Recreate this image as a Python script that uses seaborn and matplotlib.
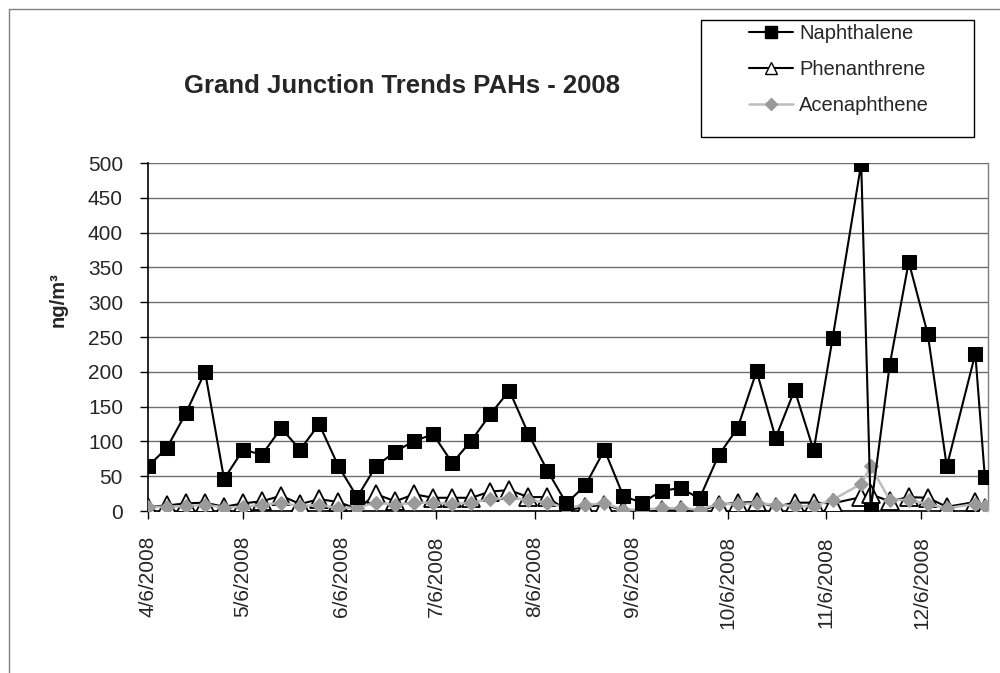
import pandas as pd
import matplotlib
matplotlib.use("Agg")
import matplotlib.pyplot as plt
from matplotlib.lines import Line2D
from matplotlib.patches import Rectangle
import seaborn as sns


# ------------------------------------------------------
# Data
# ------------------------------------------------------
sample_dates = [
    "2008-04-06", "2008-04-12", "2008-04-18", "2008-04-24", "2008-04-30",
    "2008-05-06", "2008-05-12", "2008-05-18", "2008-05-24", "2008-05-30",
    "2008-06-05", "2008-06-11", "2008-06-17", "2008-06-23", "2008-06-29",
    "2008-07-05", "2008-07-11", "2008-07-17", "2008-07-23", "2008-07-29",
    "2008-08-04", "2008-08-10", "2008-08-16", "2008-08-22", "2008-08-28",
    "2008-09-03", "2008-09-09", "2008-09-15", "2008-09-21", "2008-09-27",
    "2008-10-03", "2008-10-09", "2008-10-15", "2008-10-21", "2008-10-27",
    "2008-11-02", "2008-11-08", "2008-11-17", "2008-11-20", "2008-11-26",
    "2008-12-02", "2008-12-08", "2008-12-14", "2008-12-23", "2008-12-26",
]

naphthalene = [
    64, 91, 141, 200, 46, 88, 81, 119, 88, 125,
    65, 20, 65, 85, 101, 110, 69, 101, 139, 173,
    111, 58, 11, 37, 88, 21, 12, 29, 33, 18,
    80, 119, 201, 105, 174, 87, 249, 499, 2, 210,
    358, 254, 64, 226, 49,
]

phenanthrene = [
    6, 8, 11, 12, 6, 11, 14, 22, 10, 17,
    13, 3, 24, 14, 24, 19, 19, 19, 28, 30,
    20, 20, 1, 6, 9, 1, 0, 1, 1, 0,
    9, 12, 13, 6, 12, 12, 11, 20, 24, 14,
    20, 19, 6, 13, 5,
]

acenaphthene = [
    6, 6, 7, 9, 5, 6, 9, 12, 7, 9,
    4, 5, 12, 9, 12, 12, 10, 12, 17, 19,
    16, 12, 4, 9, 11, 2, 2, 4, 4, 2,
    10, 10, 11, 9, 7, 7, 16, 39, 64, 16,
    16, 10, 4, 10, 7,
]

tick_dates = ["2008-04-06", "2008-05-06", "2008-06-06", "2008-07-06",
              "2008-08-06", "2008-09-06", "2008-10-06", "2008-11-06",
              "2008-12-06"]
tick_labels = ["4/6/2008", "5/6/2008", "6/6/2008", "7/6/2008", "8/6/2008",
               "9/6/2008", "10/6/2008", "11/6/2008", "12/6/2008"]

df = pd.DataFrame({
    "date": pd.to_datetime(sample_dates),
    "Naphthalene": naphthalene,
    "Phenanthrene": phenanthrene,
    "Acenaphthene": acenaphthene,
})


# ------------------------------------------------------
# Style
# ------------------------------------------------------
sns.set_style("white")
plt.rcParams["font.family"] = ["Liberation Sans", "DejaVu Sans"]

fig = plt.figure(figsize=(10, 6.73), dpi=100)
ax = fig.add_axes([0.148, 0.2407, 0.840, 0.5171])

# ------------------------------------------------------
# Lines
# ------------------------------------------------------
sns.lineplot(data=df, x="date", y="Phenanthrene", ax=ax, color="black",
             lw=1.5, marker="^", markersize=13, markerfacecolor="white",
             markeredgecolor="black", markeredgewidth=1.3, zorder=3)
sns.lineplot(data=df, x="date", y="Acenaphthene", ax=ax, color="#bdbdbd",
             lw=1.8, marker="D", markersize=7, markerfacecolor="#9a9a9a",
             markeredgecolor="#9a9a9a", zorder=4)
sns.lineplot(data=df, x="date", y="Naphthalene", ax=ax, color="black",
             lw=1.5, marker="s", markersize=9.5, markerfacecolor="black",
             markeredgecolor="black", zorder=5)

# ------------------------------------------------------
# Axes
# ------------------------------------------------------
ax.set_xlim(pd.Timestamp("2008-04-06"), pd.Timestamp("2008-12-27"))
ax.set_ylim(0, 500)
ax.set_yticks(range(0, 501, 50))
ax.set_xticks(pd.to_datetime(tick_dates))
ax.set_xticklabels(tick_labels, rotation=90, va="top")
ax.tick_params(axis="both", labelsize=15, direction="out", length=6,
               width=1, color="black", pad=12, left=True, bottom=True)
ax.yaxis.grid(True, color="#6f6f6f", lw=1)
ax.xaxis.grid(False)
ax.set_axisbelow(True)
ax.set_xlabel("")
ax.set_ylabel("")

for side in ["left", "bottom"]:
    ax.spines[side].set_color("black")
    ax.spines[side].set_linewidth(1.2)
ax.spines["top"].set_visible(False)
ax.spines["right"].set_color("#7f7f7f")
ax.spines["right"].set_linewidth(1)

# ------------------------------------------------------
# Text
# ------------------------------------------------------
fig.text(0.402, 1 - 86 / 673, "Grand Junction Trends PAHs - 2008",
         ha="center", va="center", fontsize=18.5, fontweight="bold")
fig.text(0.058, 1 - 300 / 673, "ng/m³", ha="center", va="center",
         rotation=90, fontsize=14.5, fontweight="bold")

# ------------------------------------------------------
# Legend (frame drawn separately, like Excel's box)
# ------------------------------------------------------
handles = [
    Line2D([], [], color="black", lw=1.5, marker="s", markersize=9,
           markerfacecolor="black", markeredgecolor="black"),
    Line2D([], [], color="black", lw=1.5, marker="^", markersize=8,
           markerfacecolor="white", markeredgecolor="black"),
    Line2D([], [], color="#bdbdbd", lw=1.8, marker="D", markersize=6,
           markerfacecolor="#9a9a9a", markeredgecolor="#9a9a9a"),
]
fig.legend(handles, ["Naphthalene", "Phenanthrene", "Acenaphthene"],
           loc="upper left", bbox_to_anchor=(0.749, 1 - 24 / 673),
           frameon=False, fontsize=14.5, handlelength=2.2,
           handletextpad=0.3, labelspacing=0.85, borderpad=0,
           borderaxespad=0)
fig.add_artist(Rectangle((0.701, 1 - 137 / 673), 0.273, 117 / 673,
                         transform=fig.transFigure, fill=False,
                         edgecolor="black", lw=1))

# chart area border (only top and left fall inside the picture)
fig.add_artist(Line2D([0.009, 1.0], [1 - 9 / 673, 1 - 9 / 673],
                      transform=fig.transFigure, color="#808080", lw=1))
fig.add_artist(Line2D([0.009, 0.009], [0.0, 1 - 9 / 673],
                      transform=fig.transFigure, color="#808080", lw=1))

fig.savefig("out.png", dpi=100)
